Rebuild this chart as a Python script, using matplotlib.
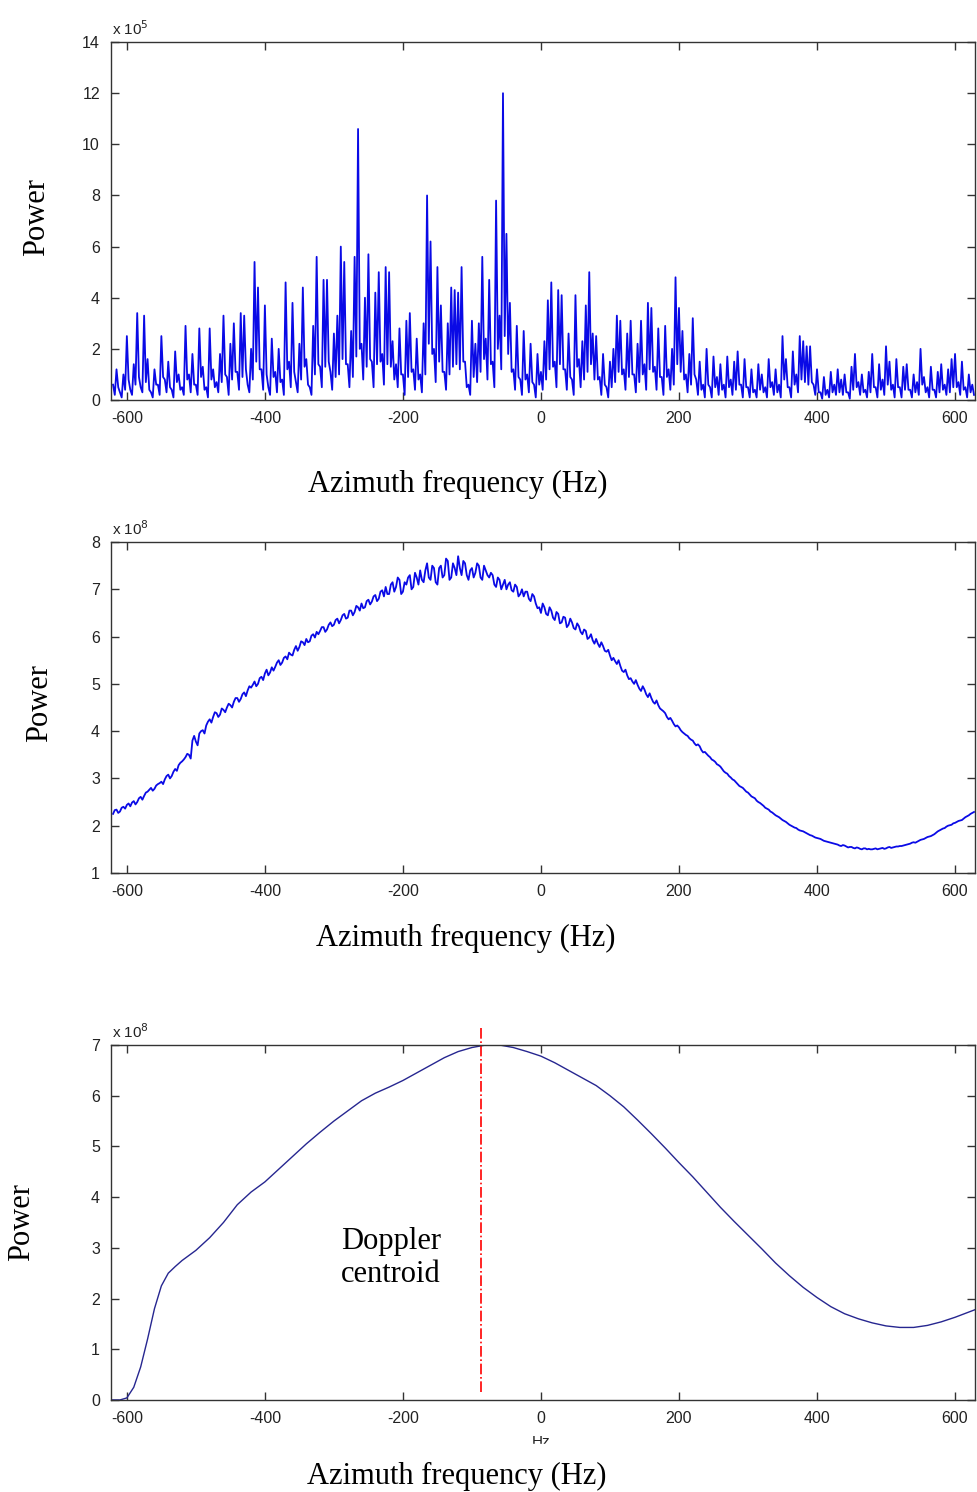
import numpy as np
import matplotlib
matplotlib.use('Agg')
import matplotlib.pyplot as plt
from matplotlib.patches import Rectangle

plt.rcParams['axes.unicode_minus'] = False

# azimuth frequency grid of the two measured spectra (Hz), 2.5 Hz bins
freq = np.linspace(-620, 627.5, 500)

# single-line azimuth power spectrum, units of 1e5 (crests and troughs)
line_crests = [
    0.6, 1.2, 0.3, 1.0, 2.5, 0.4, 1.4, 3.4, 0.5, 3.3,
    1.6, 0.3, 1.2, 0.6, 2.5, 0.8, 1.5, 0.4, 1.9, 1.0,
    0.5, 2.9, 1.0, 1.8, 0.6, 2.8, 1.3, 0.5, 2.8, 1.2,
    0.7, 1.8, 3.3, 0.9, 2.2, 3.0, 1.1, 3.4, 3.3, 0.6,
    2.0, 5.4, 4.4, 1.2, 3.7, 0.5, 2.4, 1.1, 2.0, 0.8,
    4.6, 1.5, 3.8, 0.7, 2.2, 4.4, 1.6, 0.5, 2.9, 5.6,
    1.3, 4.7, 4.7, 1.1, 2.6, 3.3, 6.0, 5.4, 1.4, 2.7,
    5.6, 10.6, 2.2, 4.0, 5.7, 1.5, 4.2, 5.0, 1.8, 5.2,
    5.0, 2.3, 1.4, 2.8, 1.0, 3.1, 3.4, 1.2, 2.4, 1.0,
    3.0, 8.0, 6.2, 2.0, 5.2, 3.7, 1.1, 3.0, 4.4, 4.3,
    4.2, 5.2, 1.5, 0.6, 3.1, 2.2, 3.0, 5.6, 2.4, 4.7,
    1.5, 7.8, 3.3, 12.0, 6.5, 3.8, 1.2, 2.9, 0.8, 2.7,
    1.0, 2.2, 0.6, 1.8, 1.1, 2.3, 3.9, 4.6, 1.5, 4.3,
    4.1, 1.2, 2.6, 0.8, 4.1, 1.6, 2.3, 3.7, 5.0, 2.6,
    2.5, 0.9, 1.8, 0.5, 1.5, 2.0, 3.3, 3.1, 1.2, 2.6,
    3.1, 1.0, 2.2, 3.1, 1.4, 3.8, 3.6, 1.3, 2.8, 0.9,
    2.9, 1.2, 2.0, 4.8, 3.6, 2.7, 1.0, 1.8, 3.2, 0.8,
    1.5, 0.6, 2.0, 0.5, 1.7, 0.9, 1.4, 0.6, 1.7, 0.8,
    1.5, 1.9, 0.6, 1.6, 0.5, 1.2, 0.4, 1.4, 1.0, 0.5,
    1.6, 0.7, 1.2, 0.6, 2.5, 1.6, 0.5, 1.9, 1.0, 2.5,
    2.3, 2.1, 2.1, 0.6, 1.2, 0.3, 0.9, 0.4, 1.1, 0.6,
    1.2, 0.8, 1.0, 0.3, 1.3, 1.8, 0.7, 1.0, 0.4, 1.1,
    1.8, 0.5, 1.4, 0.8, 2.1, 1.5, 0.6, 1.6, 0.5, 1.3,
    1.4, 0.4, 1.0, 0.7, 2.0, 0.9, 0.5, 1.3, 0.4, 1.1,
    1.4, 0.6, 1.2, 1.6, 1.8, 0.7, 1.5, 0.5, 1.0, 0.6,
]
line_troughs = [
    0.2, 0.5, 0.1, 0.4, 0.8, 0.2, 0.6, 0.9, 0.3, 0.7,
    0.4, 0.1, 0.6, 0.2, 0.9, 0.3, 0.5, 0.1, 0.7, 0.4,
    0.2, 0.8, 0.3, 0.6, 0.2, 0.9, 0.4, 0.1, 0.8, 0.5,
    0.3, 0.7, 1.0, 0.2, 0.8, 1.1, 0.4, 0.9, 1.2, 0.3,
    0.8, 1.5, 1.2, 0.4, 1.0, 0.2, 0.9, 0.3, 0.7, 0.2,
    1.2, 0.5, 1.1, 0.3, 0.8, 1.3, 0.6, 0.2, 1.0, 1.4,
    0.5, 1.3, 1.5, 0.4, 0.9, 1.0, 1.6, 1.4, 0.5, 0.9,
    1.7, 2.0, 0.8, 1.3, 1.6, 0.5, 1.4, 1.5, 0.6, 1.4,
    1.3, 0.8, 0.5, 1.0, 0.2, 0.9, 1.1, 0.4, 0.8, 0.3,
    1.0, 2.2, 1.8, 0.7, 1.5, 1.1, 0.4, 1.0, 1.3, 1.4,
    1.2, 1.5, 0.5, 0.2, 0.9, 0.7, 1.1, 1.6, 0.8, 1.4,
    0.5, 2.0, 1.2, 2.5, 1.8, 1.1, 0.4, 0.9, 0.2, 0.8,
    0.3, 0.7, 0.1, 0.6, 0.4, 0.8, 1.2, 1.3, 0.5, 1.4,
    1.2, 0.4, 0.9, 0.2, 1.3, 0.5, 0.8, 1.1, 1.4, 0.8,
    0.8, 0.2, 0.6, 0.1, 0.5, 0.7, 1.1, 1.0, 0.4, 0.9,
    1.0, 0.3, 0.7, 1.0, 0.4, 1.2, 1.1, 0.4, 0.9, 0.2,
    0.9, 0.4, 0.6, 1.4, 1.1, 0.8, 0.3, 0.6, 1.0, 0.2,
    0.4, 0.1, 0.6, 0.1, 0.5, 0.2, 0.4, 0.1, 0.5, 0.2,
    0.4, 0.6, 0.1, 0.5, 0.1, 0.3, 0.1, 0.4, 0.3, 0.1,
    0.5, 0.2, 0.3, 0.1, 0.8, 0.5, 0.1, 0.6, 0.3, 0.8,
    0.7, 0.6, 0.7, 0.2, 0.3, 0.05, 0.2, 0.1, 0.3, 0.2,
    0.3, 0.2, 0.3, 0.05, 0.4, 0.5, 0.2, 0.3, 0.1, 0.3,
    0.5, 0.1, 0.4, 0.2, 0.6, 0.4, 0.1, 0.5, 0.1, 0.4,
    0.4, 0.1, 0.3, 0.2, 0.6, 0.3, 0.1, 0.4, 0.1, 0.3,
    0.4, 0.2, 0.3, 0.5, 0.5, 0.2, 0.4, 0.1, 0.3, 0.2,
]

# averaged azimuth power spectrum, units of 1e8 (even and odd bins)
avg_even = [
    2.25, 2.34, 2.30, 2.40, 2.44, 2.41, 2.52, 2.50, 2.61, 2.63,
    2.72, 2.80, 2.78, 2.88, 2.93, 2.98, 3.08, 3.05, 3.20, 3.28,
    3.36, 3.45, 3.50, 3.80, 3.78, 3.95, 4.02, 4.12, 4.25, 4.30,
    4.38, 4.35, 4.45, 4.50, 4.55, 4.62, 4.70, 4.68, 4.82, 4.86,
    4.92, 5.05, 5.00, 5.15, 5.22, 5.18, 5.35, 5.36, 5.50, 5.45,
    5.58, 5.66, 5.60, 5.80, 5.78, 5.88, 5.95, 5.90, 6.05, 6.10,
    6.12, 6.20, 6.15, 6.30, 6.25, 6.38, 6.35, 6.48, 6.40, 6.55,
    6.52, 6.62, 6.70, 6.62, 6.78, 6.74, 6.88, 6.80, 6.98, 7.05,
    6.90, 7.15, 7.05, 7.20, 6.95, 7.10, 7.30, 7.05, 7.25, 7.40,
    7.15, 7.55, 7.20, 7.45, 7.10, 7.50, 7.30, 7.60, 7.25, 7.45,
    7.70, 7.30, 7.55, 7.20, 7.45, 7.35, 7.50, 7.20, 7.40, 7.25,
    7.30, 7.05, 7.20, 7.10, 7.00, 7.15, 6.95, 7.05, 6.90, 6.85,
    6.95, 6.75, 6.85, 6.60, 6.50, 6.62, 6.45, 6.55, 6.35, 6.48,
    6.30, 6.40, 6.25, 6.30, 6.15, 6.22, 6.05, 6.12, 5.98, 5.92,
    5.95, 5.78, 5.80, 5.68, 5.60, 5.55, 5.42, 5.38, 5.25, 5.18,
    5.12, 5.00, 4.98, 4.85, 4.88, 4.72, 4.70, 4.58, 4.55, 4.45,
    4.38, 4.25, 4.22, 4.10, 4.08, 3.98, 3.92, 3.85, 3.80, 3.70,
    3.68, 3.55, 3.52, 3.45, 3.38, 3.30, 3.25, 3.15, 3.10, 3.02,
    2.96, 2.88, 2.82, 2.76, 2.70, 2.62, 2.58, 2.50, 2.45, 2.38,
    2.34, 2.28, 2.22, 2.18, 2.12, 2.08, 2.02, 1.98, 1.95, 1.90,
    1.88, 1.84, 1.80, 1.77, 1.74, 1.72, 1.68, 1.66, 1.64, 1.62,
    1.60, 1.57, 1.58, 1.54, 1.55, 1.52, 1.53, 1.50, 1.52, 1.51,
    1.50, 1.52, 1.51, 1.53, 1.52, 1.55, 1.54, 1.56, 1.57, 1.58,
    1.60, 1.62, 1.65, 1.66, 1.70, 1.72, 1.76, 1.78, 1.82, 1.88,
    1.92, 1.95, 2.00, 2.02, 2.06, 2.10, 2.12, 2.18, 2.22, 2.27,
]
avg_odd = [
    2.33, 2.27, 2.38, 2.36, 2.47, 2.49, 2.45, 2.58, 2.55, 2.70,
    2.76, 2.74, 2.85, 2.90, 2.88, 3.05, 3.00, 3.14, 3.16, 3.33,
    3.40, 3.52, 3.42, 3.90, 3.70, 4.00, 3.95, 4.20, 4.18, 4.40,
    4.30, 4.48, 4.40, 4.58, 4.50, 4.70, 4.62, 4.78, 4.74, 4.95,
    4.98, 4.95, 5.12, 5.08, 5.30, 5.24, 5.28, 5.45, 5.40, 5.55,
    5.52, 5.62, 5.72, 5.70, 5.90, 5.82, 5.88, 6.02, 5.98, 6.05,
    6.20, 6.10, 6.25, 6.22, 6.35, 6.28, 6.45, 6.38, 6.55, 6.45,
    6.65, 6.55, 6.60, 6.75, 6.68, 6.85, 6.75, 6.95, 6.85, 6.90,
    7.10, 6.95, 7.25, 6.90, 7.15, 7.25, 7.00, 7.35, 7.10, 7.20,
    7.40, 7.25, 7.50, 7.15, 7.45, 7.25, 7.65, 7.20, 7.55, 7.30,
    7.45, 7.60, 7.30, 7.40, 7.25, 7.55, 7.25, 7.50, 7.30, 7.35,
    7.10, 7.25, 7.00, 7.20, 7.10, 6.98, 7.10, 6.85, 7.00, 6.95,
    6.80, 6.90, 6.70, 6.62, 6.70, 6.48, 6.62, 6.40, 6.52, 6.28,
    6.42, 6.20, 6.38, 6.18, 6.28, 6.10, 6.15, 5.95, 6.05, 5.85,
    5.85, 5.88, 5.70, 5.72, 5.50, 5.48, 5.50, 5.28, 5.30, 5.10,
    5.05, 5.08, 4.90, 4.95, 4.78, 4.80, 4.62, 4.65, 4.48, 4.42,
    4.30, 4.28, 4.15, 4.12, 4.02, 3.95, 3.90, 3.82, 3.74, 3.72,
    3.60, 3.56, 3.48, 3.40, 3.35, 3.28, 3.20, 3.12, 3.05, 2.98,
    2.92, 2.84, 2.80, 2.72, 2.66, 2.60, 2.53, 2.48, 2.42, 2.36,
    2.30, 2.25, 2.20, 2.15, 2.10, 2.05, 2.00, 1.96, 1.92, 1.89,
    1.86, 1.82, 1.79, 1.75, 1.73, 1.70, 1.67, 1.65, 1.63, 1.61,
    1.58, 1.59, 1.56, 1.55, 1.53, 1.54, 1.51, 1.52, 1.50, 1.50,
    1.51, 1.50, 1.52, 1.51, 1.54, 1.53, 1.55, 1.56, 1.57, 1.59,
    1.61, 1.64, 1.64, 1.68, 1.71, 1.74, 1.77, 1.80, 1.85, 1.90,
    1.94, 1.98, 2.01, 2.05, 2.08, 2.11, 2.15, 2.20, 2.25, 2.29,
]

# smoothed spectrum (units of 1e8)
smooth_freq = [-623, -610, -600, -590, -580, -570, -560, -550, -540, -530,
               -520, -500, -480, -460, -440, -420, -400, -380, -360, -340,
               -320, -300, -280, -260, -240, -220, -200, -180, -160, -140,
               -120, -100, -80, -60, -40, -20, 0, 20, 40, 60,
               80, 100, 120, 140, 160, 180, 200, 220, 240, 260,
               280, 300, 320, 340, 360, 380, 400, 420, 440, 460,
               480, 500, 520, 540, 560, 580, 600, 629]
smooth_power = [0.0, 0.0, 0.04, 0.25, 0.65, 1.2, 1.8, 2.25, 2.5, 2.63,
                2.75, 2.95, 3.2, 3.5, 3.85, 4.1, 4.3, 4.55, 4.8, 5.05,
                5.28, 5.5, 5.7, 5.9, 6.05, 6.17, 6.3, 6.45, 6.6, 6.75,
                6.87, 6.95, 7.0, 7.0, 6.95, 6.87, 6.78, 6.65, 6.5, 6.35,
                6.2, 6.0, 5.78, 5.52, 5.25, 4.97, 4.68, 4.4, 4.1, 3.8,
                3.52, 3.25, 2.98, 2.7, 2.45, 2.22, 2.02, 1.84, 1.7, 1.6,
                1.52, 1.46, 1.43, 1.43, 1.47, 1.54, 1.63, 1.78]

doppler_centroid = -87
xticks = [-600, -400, -200, 0, 200, 400, 600]

power_line = np.column_stack((line_crests, line_troughs)).ravel()
power_avg = np.column_stack((avg_even, avg_odd)).ravel()

serif = 'Liberation Serif'
sans = 'Liberation Sans'

fig = plt.figure(figsize=(9.77, 14.92), dpi=100)


def setup_axes(rect, ylim, yticks, exponent):
    ax = fig.add_axes(rect)
    ax.set_xlim(-623, 629)
    ax.set_ylim(*ylim)
    ax.set_xticks(xticks)
    ax.set_yticks(yticks)
    ax.tick_params(direction='in', length=6, width=1, top=True, right=True,
                   labelsize=11.5, labelcolor='#222222', color='#333333', pad=8)
    for lab in ax.get_xticklabels() + ax.get_yticklabels():
        lab.set_family(sans)
    for sp in ax.spines.values():
        sp.set_color('#333333')
        sp.set_linewidth(1)
    ax.annotate('x 10$^{%d}$' % exponent, xy=(0, 1), xycoords='axes fraction',
                xytext=(1, 3), textcoords='offset points',
                fontsize=11, family=sans, color='#222222', va='bottom')
    return ax


# top: single line spectrum
ax1 = setup_axes([0.1136, 0.7319, 0.8844, 0.2399], (0, 14), range(0, 15, 2), 5)
ax1.plot(freq, power_line, color='#0a0ae6', lw=1.3)
fig.text(37 / 977, 1 - 217 / 1492, 'Power', rotation=90, ha='center', va='center',
         family=serif, fontsize=22)
fig.text(458 / 977, 1 - 484 / 1492, 'Azimuth frequency (Hz)', ha='center', va='center',
         family=serif, fontsize=22)

# middle: averaged spectrum
ax2 = setup_axes([0.1136, 0.4149, 0.8844, 0.2218], (1, 8), range(1, 9), 8)
ax2.plot(freq, power_avg, color='#0a0ae6', lw=1.3)
fig.text(40 / 977, 1 - 703 / 1492, 'Power', rotation=90, ha='center', va='center',
         family=serif, fontsize=22)
fig.text(466 / 977, 1 - 938 / 1492, 'Azimuth frequency (Hz)', ha='center', va='center',
         family=serif, fontsize=22)

# bottom: smoothed spectrum with Doppler centroid
ax3 = setup_axes([0.1136, 0.0617, 0.8844, 0.2379], (0, 7), range(0, 8), 8)
ax3.plot(smooth_freq, smooth_power, color='#262690', lw=1)
ax3.plot([doppler_centroid, doppler_centroid], [0.15, 7.35], color='red',
         lw=1.2, ls='-.', clip_on=False)
ax3.text(-217, 2.8, 'Doppler\ncentroid', ha='center', va='center',
         family=serif, fontsize=22, linespacing=1.2)
fig.text(22 / 977, 1 - 1222 / 1492, 'Power', rotation=90, ha='center', va='center',
         family=serif, fontsize=22)
fig.text(541 / 977, 1 - 1442 / 1492, 'Hz', ha='center', va='center',
         family=sans, fontsize=11, color='#222222')
fig.add_artist(Rectangle((520 / 977, 1 - 1456 / 1492), 45 / 977, 12 / 1492,
                         transform=fig.transFigure, color='white', zorder=10))
fig.text(457 / 977, 1 - 1476 / 1492, 'Azimuth frequency (Hz)', ha='center', va='center',
         family=serif, fontsize=22, zorder=11)

fig.savefig('out.png', dpi=100)
plt.close(fig)
